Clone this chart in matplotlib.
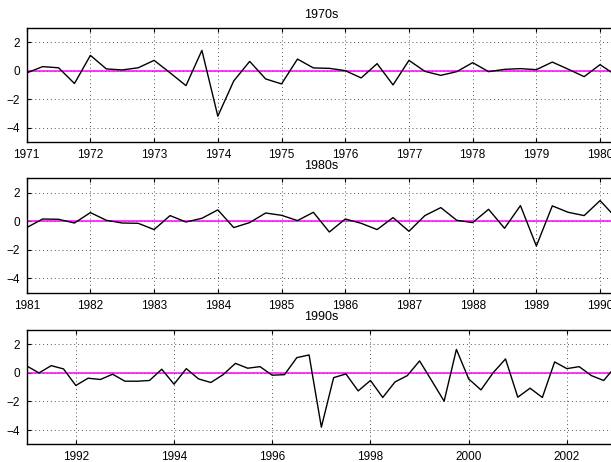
import numpy as np
import matplotlib
matplotlib.use('Agg')
import matplotlib.pyplot as plt

plt.rcParams['font.family'] = ['Liberation Sans', 'DejaVu Sans']
plt.rcParams['font.size'] = 8.5

# quarterly values, one list per decade panel
titles = ['1970s', '1980s', '1990s']
start_years = [1971, 1981, 1991]
end_years = [1980.25, 1990.25, 2003]
tick_years = [list(range(1971, 1981)), list(range(1981, 1991)), list(range(1992, 2003, 2))]

vals_70s = [-0.16, 0.28, 0.2, -0.9, 1.07, 0.12, 0.05, 0.2,
            0.72, -0.15, -1.05, 1.42, -3.19, -0.72, 0.65, -0.58,
            -0.93, 0.81, 0.19, 0.16, 0.0, -0.51, 0.49, -1.0,
            0.72, -0.05, -0.33, -0.07, 0.56, -0.07, 0.09, 0.14,
            0.07, 0.6, 0.1, -0.42, 0.42, -0.33]
vals_80s = [-0.44, 0.16, 0.14, -0.12, 0.61, 0.07, -0.12, -0.14,
            -0.58, 0.4, -0.05, 0.21, 0.8, -0.44, -0.09, 0.58,
            0.42, 0.05, 0.63, -0.75, 0.16, -0.14, -0.58, 0.26,
            -0.7, 0.4, 0.96, 0.07, -0.09, 0.84, -0.49, 1.1,
            -1.73, 1.08, 0.63, 0.4, 1.45, 0.25]
vals_90s = [0.49, 0.0, 0.51, 0.28, -0.88, -0.37, -0.46, -0.09,
            -0.58, -0.58, -0.53, 0.26, -0.79, 0.3, -0.42, -0.67,
            -0.12, 0.67, 0.33, 0.44, -0.16, -0.12, 1.07, 1.26,
            -3.8, -0.33, -0.07, -1.26, -0.53, -1.72, -0.63, -0.19,
            0.84, -0.56, -1.98, 1.65, -0.42, -1.19, 0.02, 0.98,
            -1.7, -1.07, -1.72, 0.77, 0.3, 0.44, -0.19, -0.53, 0.5]
series = [vals_70s, vals_80s, vals_90s]

fig = plt.figure(figsize=(6.11, 4.62), dpi=100)
bottoms = [0.6926, 0.3665, 0.0383]

for i in range(3):
    ax = fig.add_axes([0.0437, bottoms[i], 0.9645, 0.2472])
    y = series[i]
    x = start_years[i] + 0.25 * np.arange(len(y))
    ax.axhline(0, color='#ff00ff', lw=1.1, zorder=2)
    ax.plot(x, y, color='black', lw=1.0, zorder=3)
    ax.set_xlim(start_years[i], end_years[i])
    ax.set_ylim(-5, 3)
    ax.set_xticks(tick_years[i])
    ax.set_yticks([-4, -2, 0, 2])
    ax.set_yticklabels(['\u22124', '\u22122', '0', '2'])
    ax.grid(True, linestyle=(0, (1, 3)), color='#555555', lw=0.7)
    ax.tick_params(direction='in', length=3, top=True, right=True, pad=5)
    for s in ax.spines.values():
        s.set_linewidth(1.0)
    ax.set_title(titles[i], fontsize=9, pad=7)

fig.savefig('out.png', dpi=100)
